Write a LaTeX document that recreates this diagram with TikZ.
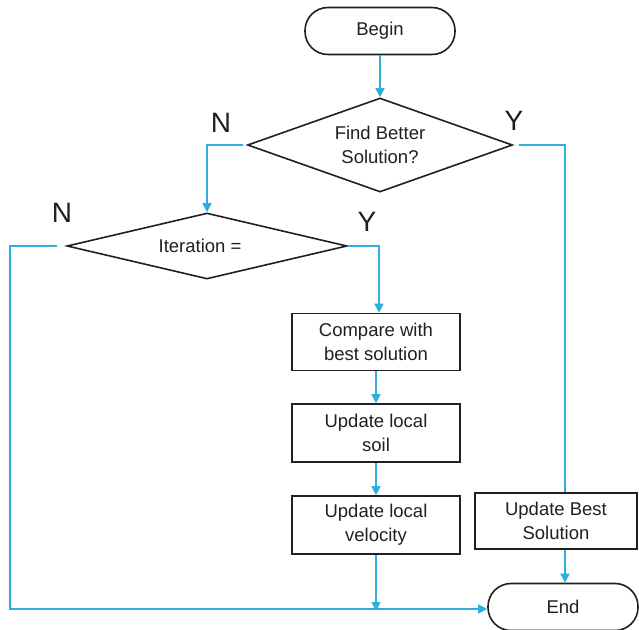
\documentclass[tikz,border=0pt]{standalone}
\usepackage{fontspec}
\setmainfont{Liberation Sans}
\usetikzlibrary{arrows.meta,shapes.geometric}
\definecolor{flowblue}{RGB}{45,174,222}
\definecolor{ink}{RGB}{35,31,32}
\begin{document}
\begin{tikzpicture}[x=1pt,y=-1pt,
  every node/.style={text=ink,font=\fontsize{18.5}{24}\selectfont,align=center},
  terminal/.style={draw=ink,line width=1.6pt,rectangle,rounded corners=23pt,
    minimum width=150pt,minimum height=47pt,inner sep=0pt},
  decision/.style={draw=ink,line width=1.6pt,diamond,inner sep=0pt},
  process/.style={draw=ink,line width=1.6pt,rectangle,minimum width=168pt,
    minimum height=57pt,inner sep=0pt},
  conn/.style={draw=flowblue,line width=1.6pt},
  arr/.style={conn,-{Triangle[length=9pt,width=9pt]}},
  branch/.style={font=\fontsize{28}{30}\selectfont,inner sep=0pt}]
\clip (0,0) rectangle (639,629);
\fill[white] (0,0) rectangle (639,629);

% nodes
\node[terminal] (begin) at (380,31) {Begin};
\node[decision,shape aspect=2.82,minimum width=265pt,minimum height=94pt] (d1) at (380,145) {Find Better\\Solution?};
\node[decision,shape aspect=4.24,minimum width=280pt,minimum height=66pt] (d2) at (207,246) {\hspace*{-14pt}Iteration =};
\node[process] (b1) at (376,342) {Compare with\\best solution};
\node[process,minimum height=58pt] (b2) at (376,433) {Update local\\soil};
\node[process,minimum height=58pt] (b3) at (376,525) {Update local\\velocity};
\node[process,minimum width=162pt,minimum height=56pt] (b4) at (556,521) {Update Best\\Solution};
\node[terminal] (end) at (563,607) {End};

% branch labels
\node[branch] (n1) at (221,123) {N};
\node[branch] (y1) at (514,121) {Y};
\node[branch] (n2) at (62,213) {N};
\node[branch] (y2) at (367,222) {Y};

\coordinate (leftrail) at (10,400);

% connectors
\draw[arr] (begin.south) -- (d1.north);
\draw[arr] ([xshift=-4pt]d1.west) -| (d2.north);
\draw[conn] ([xshift=6pt]d1.east) -| ([xshift=9pt]b4.north);
\draw[arr] (d2.east) -| ([xshift=3pt]b1.north);
\draw[arr] (b1.south) -- (b2.north);
\draw[arr] (b2.south) -- (b3.north);
\draw[arr] ([xshift=-9pt]d2.west) -| (leftrail) |- ([yshift=-2pt]end.west);
\draw[arr] (b3.south) -- ([yshift=-4pt]b3.south |- end.west);
\draw[arr] ([xshift=9pt]b4.south) -- ([xshift=2pt]end.north);
\end{tikzpicture}
\end{document}
